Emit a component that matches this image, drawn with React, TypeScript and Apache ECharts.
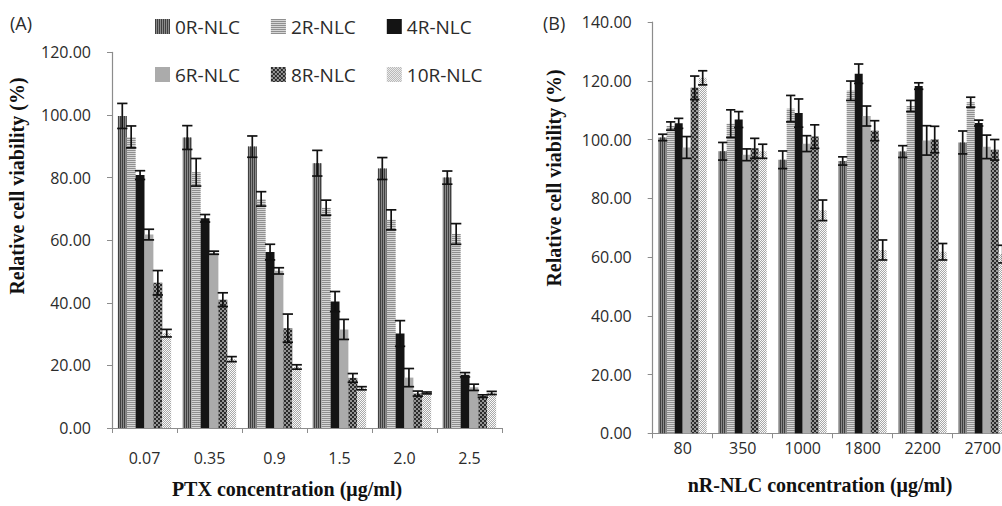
import { useEffect, useRef } from 'react';
import * as echarts from 'echarts';

// ---------- data ----------
const seriesNames = ['0R-NLC', '2R-NLC', '4R-NLC', '6R-NLC', '8R-NLC', '10R-NLC'];

// Panel A: PTX concentration (µg/ml)
const ptxCategories = ['0.07', '0.35', '0.9', '1.5', '2.0', '2.5'];
const ptxMean0R = [99.7, 92.8, 89.9, 84.6, 82.9, 80.0];
const ptxMean2R = [93.0, 81.7, 73.2, 70.4, 66.5, 62.0];
const ptxMean4R = [80.8, 67.0, 56.2, 40.4, 30.2, 17.0];
const ptxMean6R = [61.8, 56.0, 50.2, 31.5, 16.1, 13.0];
const ptxMean8R = [46.4, 41.0, 31.9, 16.0, 11.0, 10.2];
const ptxMean10R = [30.3, 22.0, 19.5, 12.7, 11.2, 11.2];
const ptxErr0R = [4.0, 3.8, 3.4, 4.1, 3.5, 2.1];
const ptxErr2R = [3.5, 4.4, 2.3, 2.4, 3.2, 3.3];
const ptxErr4R = [1.4, 1.2, 2.5, 3.2, 4.1, 0.7];
const ptxErr6R = [1.7, 0.5, 1.0, 3.2, 2.9, 1.0];
const ptxErr8R = [3.9, 2.2, 4.5, 1.4, 0.8, 0.4];
const ptxErr10R = [1.2, 0.8, 0.7, 0.5, 0.3, 0.5];

// Panel B: nR-NLC concentration (µg/ml)
const nlcCategories = ['80', '350', '1000', '1800', '2200', '2700'];
const nlcMean0R = [100.7, 96.0, 93.1, 92.7, 95.9, 99.0];
const nlcMean2R = [104.6, 105.4, 110.5, 116.6, 111.4, 112.7];
const nlcMean4R = [105.5, 106.8, 109.0, 122.4, 118.2, 105.6];
const nlcMean6R = [97.3, 94.8, 98.6, 108.0, 99.7, 97.5];
const nlcMean8R = [117.6, 97.0, 101.0, 103.0, 100.0, 96.5];
const nlcMean10R = [121.0, 96.0, 75.9, 62.4, 61.8, 61.0];
const nlcErr0R = [1.1, 3.0, 3.0, 1.4, 2.0, 3.9];
const nlcErr2R = [1.4, 4.7, 4.5, 3.3, 1.9, 1.7];
const nlcErr4R = [1.7, 2.7, 4.8, 3.3, 1.1, 1.0];
const nlcErr6R = [3.7, 2.0, 2.7, 3.4, 5.0, 4.0];
const nlcErr8R = [4.0, 3.4, 4.0, 3.4, 4.5, 3.5];
const nlcErr10R = [2.4, 2.4, 3.5, 3.4, 2.8, 3.0];

const ptxMeans = [ptxMean0R, ptxMean2R, ptxMean4R, ptxMean6R, ptxMean8R, ptxMean10R];
const ptxErrs = [ptxErr0R, ptxErr2R, ptxErr4R, ptxErr6R, ptxErr8R, ptxErr10R];
const nlcMeans = [nlcMean0R, nlcMean2R, nlcMean4R, nlcMean6R, nlcMean8R, nlcMean10R];
const nlcErrs = [nlcErr0R, nlcErr2R, nlcErr4R, nlcErr6R, nlcErr8R, nlcErr10R];

// ---------- styles ----------
const barStyles: any[] = [
  { color: '#8a8a8a', decal: { symbol: 'rect', color: '#3f3f3f', dashArrayX: [1, 1], dashArrayY: [4, 0], symbolSize: 1 } },
  { color: '#d6d6d6', decal: { symbol: 'rect', color: '#8f8f8f', dashArrayX: [4, 0], dashArrayY: [1, 1], symbolSize: 1 } },
  { color: '#141414' },
  { color: '#ababab' },
  { color: '#2a2a2a', decal: { symbol: 'rect', color: '#dcdcdc', dashArrayX: [[2, 2], [0, 2, 2, 0]], dashArrayY: [2, 0], symbolSize: 0.8 } },
  { color: '#fafafa', decal: { symbol: 'rect', color: '#a8a8a8', dashArrayX: [[1, 1], [0, 1, 1, 0]], dashArrayY: [1, 0], symbolSize: 1 } },
];

const AXIS_COLOR = '#8c8c8c';
const TEXT_COLOR = '#2b2b2b';
const SANS = '"Open Sans", "Noto Sans", sans-serif';
const SERIF = '"Liberation Serif", "DejaVu Serif", serif';

const makeErrorSeries = (axisIdx: number, means: number[][], errs: number[][], gapFrac: number) => {
  const data: number[][] = [];
  means.forEach((arr, s) => arr.forEach((m, c) => data.push([c, s, m, errs[s][c]])));
  return {
    type: 'custom',
    xAxisIndex: axisIdx,
    yAxisIndex: axisIdx,
    z: 10,
    silent: true,
    encode: { x: 0, y: 2 },
    data,
    renderItem: (_params: any, api: any) => {
      const c = api.value(0);
      const s = api.value(1);
      const m = api.value(2);
      const e = api.value(3);
      const band = api.size([1, 0])[0];
      const inner = band * (1 - gapFrac);
      const bw = inner / 6;
      const center = api.coord([c, m]);
      const x = center[0] - inner / 2 + (s + 0.5) * bw;
      const yTop = api.coord([c, m + e])[1];
      const yBot = api.coord([c, m - e])[1];
      const half = bw * 0.58;
      const style = { stroke: '#111', lineWidth: 1.7 };
      return {
        type: 'group',
        children: [
          { type: 'line', shape: { x1: x, y1: yTop, x2: x, y2: yBot }, style },
          { type: 'line', shape: { x1: x - half, y1: yTop, x2: x + half, y2: yTop }, style },
          { type: 'line', shape: { x1: x - half, y1: yBot, x2: x + half, y2: yBot }, style },
        ],
      };
    },
  };
};

const makeAxes = (categories: string[], max: number, xMargin: number) => ({
  x: {
    type: 'category',
    data: categories,
    axisLine: { lineStyle: { color: AXIS_COLOR, width: 1.2 } },
    axisTick: { show: true, length: 5, lineStyle: { color: AXIS_COLOR } },
    axisLabel: { color: TEXT_COLOR, fontSize: 16, fontFamily: SANS, margin: xMargin },
    splitLine: { show: false },
  },
  y: {
    type: 'value',
    min: 0,
    max,
    interval: 20,
    axisLine: { show: true, lineStyle: { color: AXIS_COLOR, width: 1.2 } },
    axisTick: { show: true, length: 5, lineStyle: { color: AXIS_COLOR } },
    axisLabel: {
      color: TEXT_COLOR,
      fontSize: 16,
      fontFamily: SANS,
      margin: 21,
      formatter: (v: number) => v.toFixed(2),
    },
    splitLine: { show: false },
  },
});

const axesA = makeAxes(ptxCategories, 120, 22);
const axesB = makeAxes(nlcCategories, 140, 7);

const GAP_A = 0.18;
const GAP_B = 0.2;

const barSeries = (axisIdx: number, means: number[][], gap: number) =>
  means.map((vals, i) => ({
    type: 'bar',
    name: seriesNames[i],
    xAxisIndex: axisIdx,
    yAxisIndex: axisIdx,
    data: vals,
    barGap: '0%',
    barCategoryGap: `${gap * 100}%`,
    itemStyle: barStyles[i],
    emphasis: { disabled: true },
  }));

const legendCommon = {
  left: 150,
  itemWidth: 15,
  itemHeight: 15,
  itemGap: 31,
  icon: 'rect',
  selectedMode: false,
  textStyle: { color: TEXT_COLOR, fontSize: 19, fontFamily: SANS },
};

const option: any = {
  animation: false,
  backgroundColor: '#ffffff',
  legend: [
    { ...legendCommon, top: 12, data: seriesNames.slice(0, 3) },
    { ...legendCommon, top: 60, data: seriesNames.slice(3, 6) },
  ],
  grid: [
    { left: 112, top: 52.4, width: 390, height: 375.6, containLabel: false },
    { left: 652.7, top: 22, width: 360, height: 411.3, containLabel: false },
  ],
  xAxis: [
    { ...axesA.x, gridIndex: 0 },
    { ...axesB.x, gridIndex: 1 },
  ],
  yAxis: [
    { ...axesA.y, gridIndex: 0 },
    { ...axesB.y, gridIndex: 1 },
  ],
  series: [
    ...barSeries(0, ptxMeans, GAP_A),
    ...barSeries(1, nlcMeans, GAP_B),
    makeErrorSeries(0, ptxMeans, ptxErrs, GAP_A),
    makeErrorSeries(1, nlcMeans, nlcErrs, GAP_B),
  ],
  graphic: [
    { type: 'text', x: 10, y: 23, style: { text: '(A)', fontSize: 18, fontFamily: SANS, fill: TEXT_COLOR, align: 'left', verticalAlign: 'middle' } },
    { type: 'text', x: 543, y: 23, style: { text: '(B)', fontSize: 18, fontFamily: SANS, fill: TEXT_COLOR, align: 'left', verticalAlign: 'middle' } },
    { type: 'text', x: 17, y: 186, rotation: Math.PI / 2, style: { text: 'Relative cell viability (%)', fontSize: 20, fontWeight: 'bold', fontFamily: SERIF, fill: '#111', align: 'center', verticalAlign: 'middle' } },
    { type: 'text', x: 554, y: 178, rotation: Math.PI / 2, style: { text: 'Relative cell viability (%)', fontSize: 20, fontWeight: 'bold', fontFamily: SERIF, fill: '#111', align: 'center', verticalAlign: 'middle' } },
    { type: 'text', x: 287, y: 489, style: { text: 'PTX concentration (μg/ml)', fontSize: 20, fontWeight: 'bold', fontFamily: SERIF, fill: '#111', align: 'center', verticalAlign: 'middle' } },
    { type: 'text', x: 820, y: 485, style: { text: 'nR-NLC concentration (μg/ml)', fontSize: 20, fontWeight: 'bold', fontFamily: SERIF, fill: '#111', align: 'center', verticalAlign: 'middle' } },
  ],
};

export default function App() {
  const ref = useRef<HTMLDivElement>(null);
  useEffect(() => {
    if (!ref.current) return;
    const chart = echarts.init(ref.current, undefined, { renderer: 'svg' });
    chart.setOption(option);
    return () => chart.dispose();
  }, []);
  return (
    <div
      style={{
        position: 'fixed',
        left: 0,
        top: 0,
        width: 1002,
        height: 506,
        overflow: 'hidden',
        background: '#ffffff',
      }}
    >
      <div ref={ref} style={{ width: 1040, height: 506 }} />
    </div>
  );
}
